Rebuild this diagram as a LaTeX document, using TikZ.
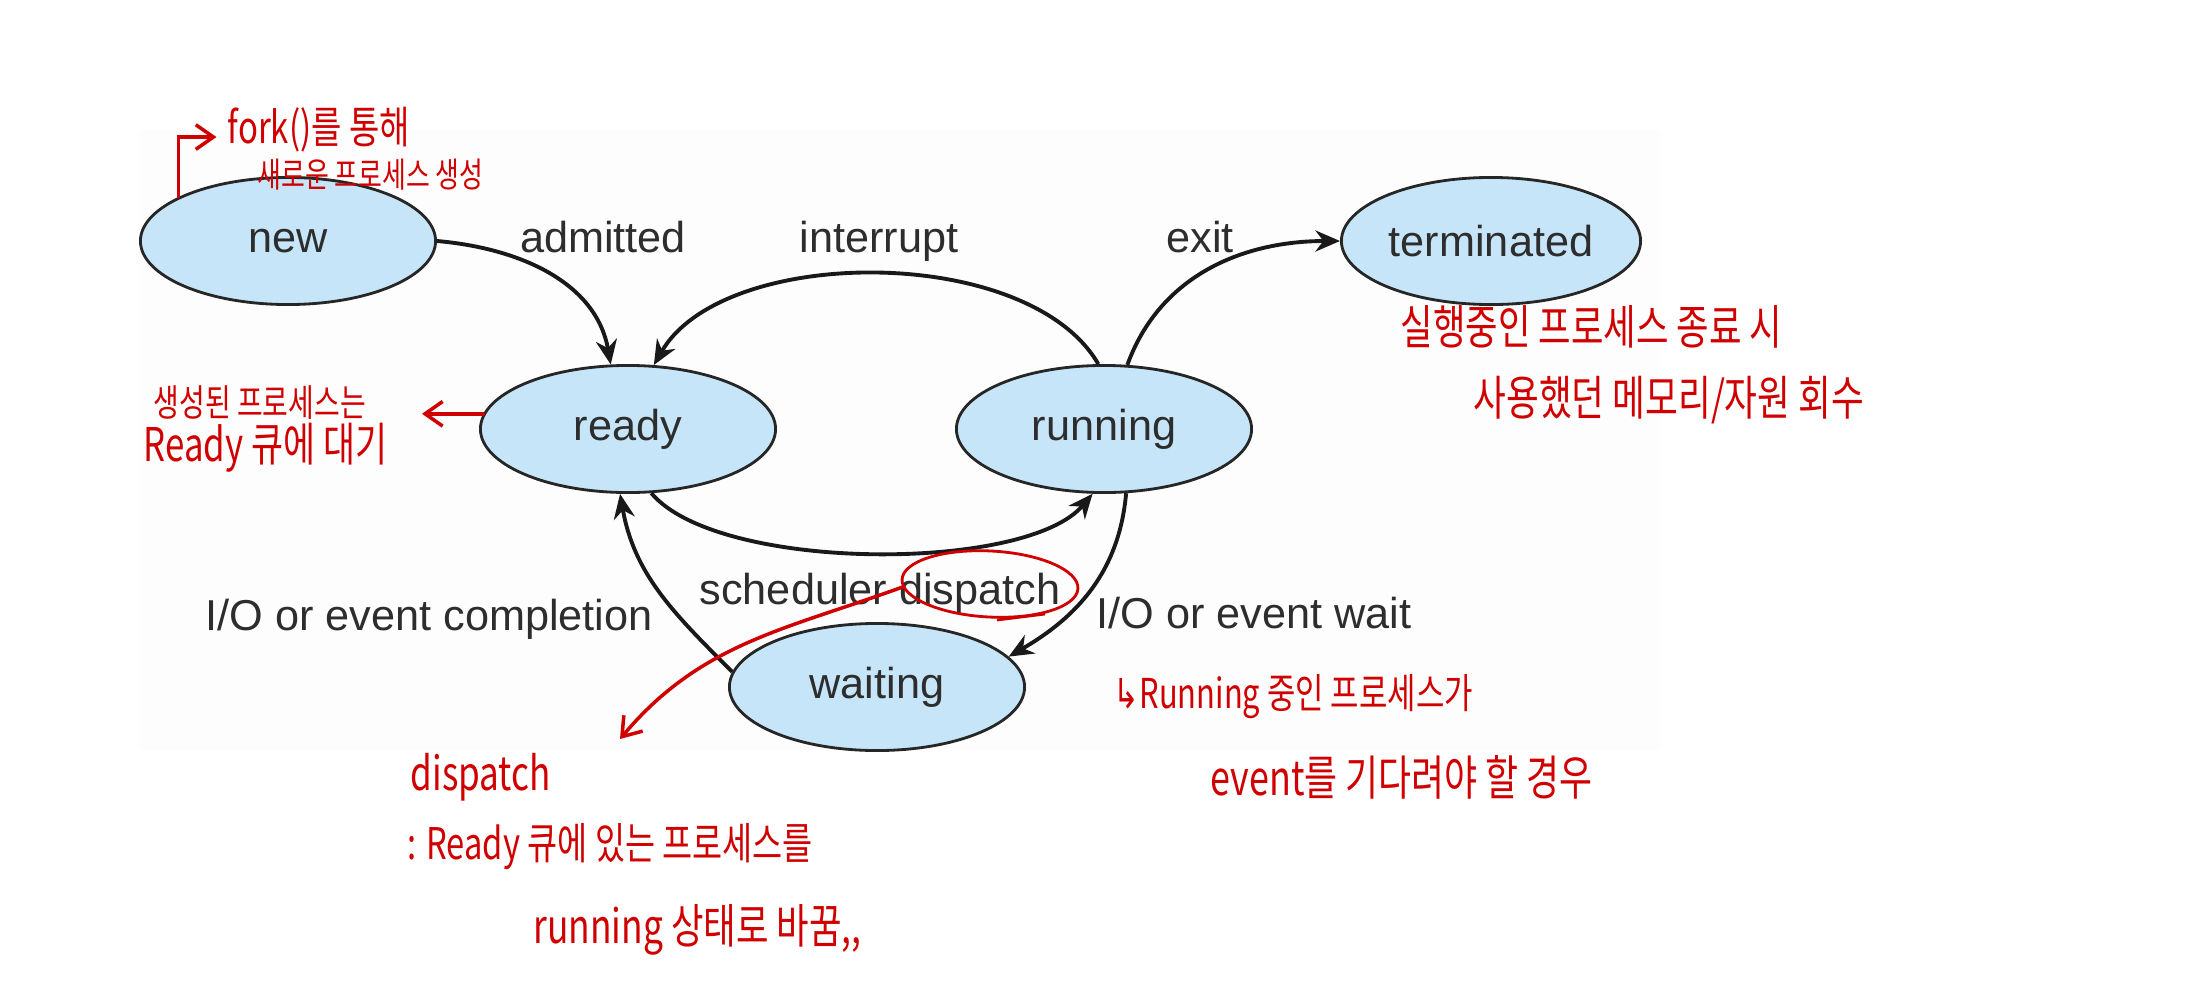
\documentclass[tikz,border=0pt]{standalone}
\usepackage{fontspec}
\setmainfont{Liberation Sans}
\newfontfamily\hfont{Noto Sans CJK KR}
\newfontfamily\symfont{DejaVu Sans}
\usetikzlibrary{arrows.meta,shapes.geometric}

\definecolor{stfill}{RGB}{199,229,248}
\definecolor{penred}{RGB}{208,0,0}
\definecolor{ink}{RGB}{45,45,45}
\newcommand\hw[1]{\hfont\fontsize{#1}{#1}\selectfont}
\newcommand\memo[1]{\scalebox{0.75}[1]{#1}}

\begin{document}
\begin{tikzpicture}[x=0.01cm,y=-0.01cm,>={Stealth[length=7pt,width=6pt]},
  state/.style={ellipse,draw=black!85,line width=0.8pt,fill=stfill,
    minimum width=2.95cm,minimum height=1.27cm,inner sep=0pt,text=ink,
    font=\fontsize{12.3}{14}\selectfont},
  lbl/.style={text=ink,inner sep=0pt,text height=9pt,text depth=2.6pt,
    font=\fontsize{12.3}{14}\selectfont},
  trans/.style={->,line width=1.1pt,black!90},
  note/.style={anchor=west,inner sep=0pt,text=penred},
  redline/.style={draw=penred,line width=1pt,line cap=round,
    -{Straight Barb[length=5pt,width=7pt]}}]
  \useasboundingbox (0,0) rectangle (2185,1000);
  % 배경
  \fill[black!0.8] (140,130) rectangle (1660,750);
  % 상태
  \node[state] (new) at (288,241) {new};
  \node[state] (ready) at (628,429) {ready};
  \node[state] (running) at (1104,429) {running};
  \node[state] (waiting) at (877,687) {waiting};
  \node[state,minimum width=2.99cm] (term) at (1491,241) {terminated};
  % 전이 라벨
  \node[lbl] (adm) at (603,241) {admitted};
  \node[lbl] (intr) at (879,241) {interrupt};
  \node[lbl] (exitl) at (1200,241) {exit};
  \node[lbl] (disp) at (880,593) {scheduler dispatch};
  \node[lbl] (comp) at (429,619) {I/O or event completion};
  \node[lbl] (evwait) at (1254,617) {I/O or event wait};
  % 전이
  \draw[trans] (new.east) to[out=-5,in=100] (ready.105);
  \draw[trans] (running.95) to[out=120,in=60,looseness=0.8] (ready.68);
  \draw[trans] (running.70) to[out=70,in=180] (term.west);
  \draw[trans] (ready.-70) to[out=-50,in=-130,looseness=0.6] (running.-100);
  \draw[trans] (running.-71) to[out=-95,in=30] (waiting.13);
  \draw[trans] (waiting.174) to[out=135,in=-80] (ready.-97);
  % 필기: new
  \node[note,font=\hw{12.5}] (fork) at (227,130) {\memo{fork()를 통해}};
  \node[note,font=\hw{9.8}] (newp) at (257,175) {\memo{새로운 프로세스 생성}};
  \draw[redline,shorten >=3pt] (new.158) |- ([yshift=-2pt]fork.west);
  % 필기: ready
  \node[note,font=\hw{10.6}] (rdy1) at (153,403) {\memo{생성된 프로세스는}};
  \node[note,font=\hw{13.2}] (rdy2) at (143,448) {\memo{Ready 큐에 대기}};
  \coordinate (rdtip) at (422,415);
  \draw[redline] (ready.174) -- (rdtip |- ready.174);
  % 필기: terminated
  \node[note,font=\hw{13.4}] (trm1) at (1400,327) {\memo{실행중인 프로세스 종료 시}};
  \node[note,font=\hw{13.5}] (trm2) at (1473,400) {\memo{사용했던 메모리/자원 회수}};
  % 필기: dispatch
  \node[ellipse,draw=penred,line width=0.8pt,minimum width=1.76cm,
    minimum height=0.66cm,rotate=-3] (dcirc) at (990,584) {};
  \draw[penred,line width=0.8pt] (997,620) -- (1045,614);
  \coordinate (dtip) at (620,739);
  \draw[redline] (dcirc.185) to[out=200,in=50] (dtip);
  \node[note,font=\hw{13.3}] (dsp1) at (410,777) {\memo{dispatch}};
  \node[note,font=\hw{12.4}] (dsp2) at (407,847) {\memo{: Ready 큐에 있는 프로세스를}};
  \node[note,font=\hw{13.4}] (dsp3) at (533,930) {\memo{running 상태로 바꿈,,}};
  % 필기: waiting
  \node[note,font=\hw{11.7}] (wt1) at (1113,697) {\memo{{\symfont ↳}Running 중인 프로세스가}};
  \node[note,font=\hw{13.6}] (wt2) at (1210,777) {\memo{event를 기다려야 할 경우}};
\end{tikzpicture}
\end{document}
